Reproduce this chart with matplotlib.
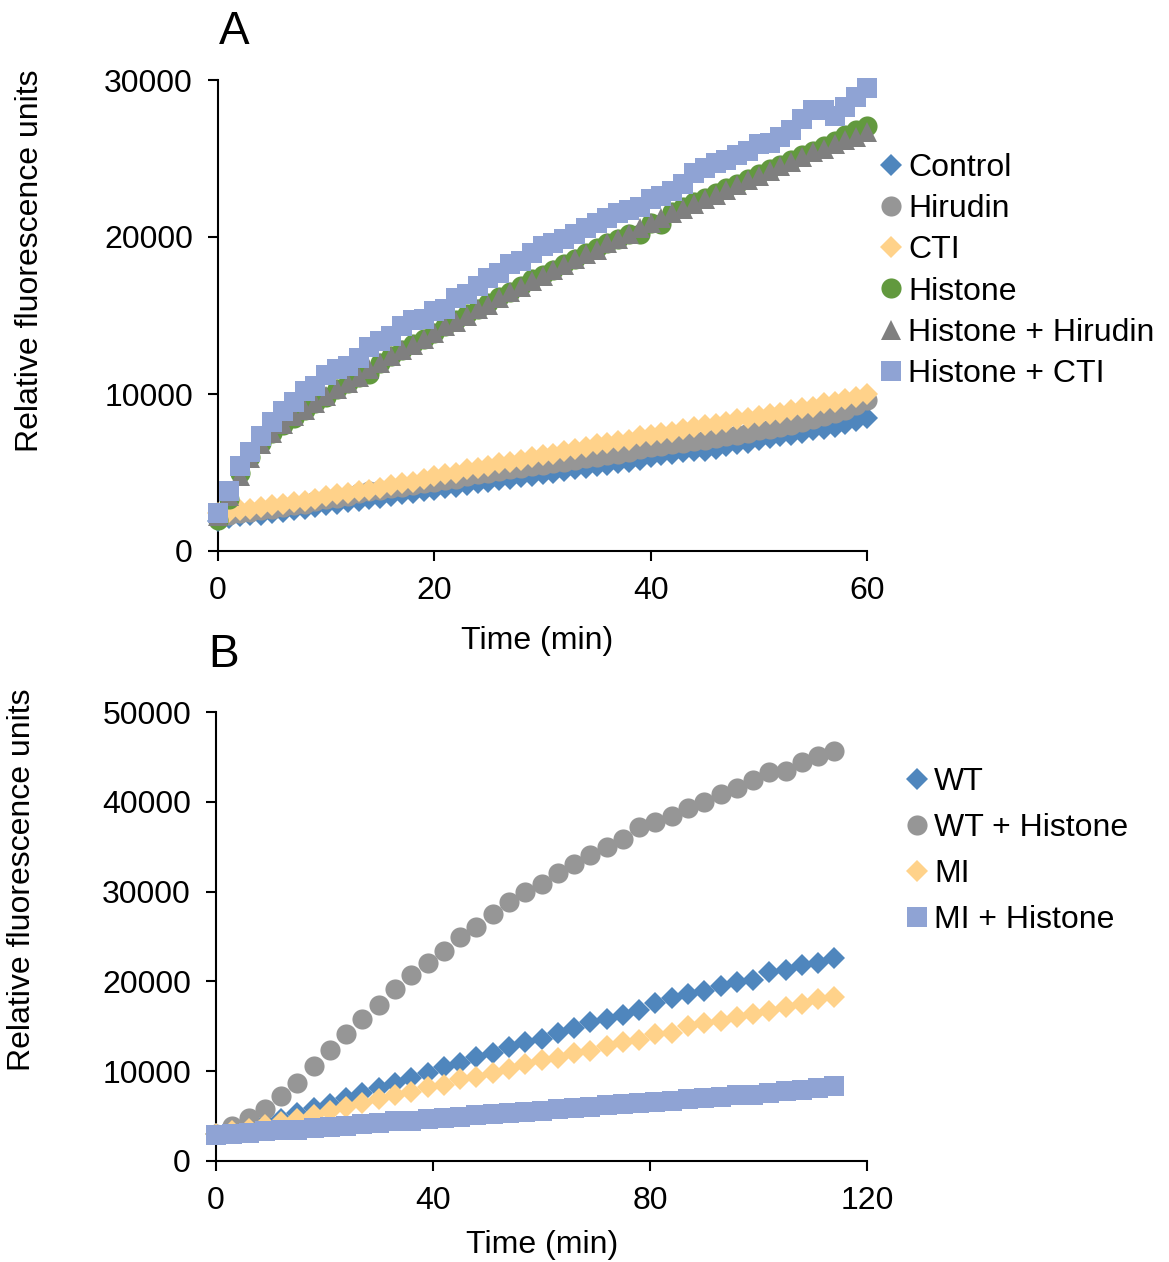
import numpy as np
import matplotlib.pyplot as plt

plt.rcParams['font.family'] = ['Liberation Sans', 'DejaVu Sans']
plt.rcParams['font.size'] = 23

# ---- panel A data (one reading per minute) ----
time_a = list(range(0, 61))
control = [1900, 2100, 2200, 2300, 2300, 2400, 2500, 2600, 2700, 2800, 2900, 3000, 3100, 3200, 3300,
           3400, 3500, 3600, 3700, 3800, 3900, 4000, 4100, 4200, 4300, 4400, 4500, 4600, 4700, 4800,
           4900, 5000, 5100, 5200, 5300, 5400, 5500, 5600, 5700, 5800, 6000, 6100, 6200, 6300, 6400,
           6400, 6500, 6700, 6800, 6900, 7100, 7200, 7300, 7400, 7500, 7700, 7800, 7900, 8100, 8300, 8500]
hirudin = [2100, 2300, 2400, 2500, 2600, 2700, 2800, 2900, 3000, 3200, 3300, 3400, 3500, 3700, 3800,
           3900, 4000, 4100, 4200, 4300, 4400, 4500, 4600, 4800, 4900, 5000, 5100, 5200, 5300, 5400,
           5500, 5600, 5700, 5800, 5900, 6000, 6100, 6200, 6300, 6500, 6600, 6700, 6800, 6900, 7000,
           7100, 7200, 7300, 7400, 7500, 7700, 7800, 7900, 8000, 8200, 8400, 8600, 8800, 9000, 9300, 9600]
cti = [2400, 2500, 2600, 2700, 2800, 2900, 3000, 3100, 3200, 3300, 3500, 3600, 3700, 3800, 3900,
       4000, 4200, 4300, 4400, 4600, 4800, 4900, 5000, 5200, 5300, 5400, 5600, 5700, 5800, 6000,
       6100, 6200, 6400, 6500, 6600, 6800, 6900, 7000, 7100, 7300, 7400, 7500, 7600, 7800, 7900,
       8000, 8100, 8200, 8400, 8500, 8600, 8700, 8800, 9000, 9100, 9200, 9400, 9500, 9700, 9800, 10000]
histone = [2000, 3300, 5000, 6000, 6900, 7500, 8000, 8500, 9000, 9400, 9800, 10300, 10700, 11100, 11300,
           12000, 12400, 12800, 13200, 13500, 13900, 14300, 14700, 15100, 15400, 15800, 16200, 16500, 16900, 17300,
           17600, 17900, 18300, 18600, 19000, 19300, 19600, 19900, 20200, 20200, 20900, 20800, 21600, 21900, 22200,
           22500, 22800, 23100, 23400, 23700, 24000, 24300, 24600, 24900, 25200, 25500, 25800, 26100, 26500, 26800, 27100]
histone_hirudin = [2200, 3500, 4800, 5900, 6800, 7500, 8100, 8600, 9000, 9400, 9900, 10300, 10700, 11100, 11600,
                   12000, 12400, 12800, 13100, 13500, 13900, 14300, 14600, 15000, 15400, 15700, 16100, 16500, 16800, 17200,
                   17500, 17900, 18200, 18600, 18900, 19200, 19600, 19900, 20200, 20600, 20900, 21200, 21500, 21800, 22100,
                   22400, 22700, 23000, 23300, 23600, 23900, 24200, 24500, 24800, 25100, 25400, 25600, 25900, 26200, 26400, 26700]
histone_cti = [2400, 3800, 5400, 6300, 7300, 8200, 8900, 9500, 10200, 10500, 11200, 11600, 11800, 12300, 13000,
               13400, 13700, 14300, 14700, 14800, 15300, 15400, 16100, 16400, 16900, 17400, 17700, 18300, 18500, 19000,
               19400, 19600, 19900, 20200, 20600, 20900, 21200, 21500, 21700, 21900, 22400, 22600, 22900, 23400, 24100,
               24400, 24700, 24900, 25200, 25500, 25900, 26000, 26400, 26800, 27500, 28100, 28100, 27700, 28300, 28900, 29500]

# ---- panel B data (one reading every 3 min) ----
time_b = list(range(0, 115, 3))
wt = [3000, 3400, 3800, 4200, 4700, 5300, 5900, 6400, 7000, 7600, 8100, 8700, 9200, 9800, 10500,
      10900, 11600, 12000, 12700, 13300, 13600, 14300, 14800, 15500, 15800, 16300, 16800, 17600, 18100, 18600,
      18900, 19500, 19900, 20200, 21000, 21300, 21800, 22100, 22600]
wt_histone = [3000, 3900, 4800, 5800, 7200, 8700, 10600, 12400, 14100, 15800, 17400, 19200, 20700, 22000, 23400,
              25000, 26100, 27500, 28800, 30000, 30900, 32100, 33100, 34100, 35000, 35900, 37200, 37800, 38400, 39300,
              40000, 40900, 41500, 42400, 43300, 43400, 44400, 45100, 45700]
mi = [3000, 3300, 3600, 4000, 4300, 4700, 5100, 5600, 6000, 6500, 6900, 7300, 7700, 8200, 8500,
      9100, 9400, 9800, 10200, 10800, 11200, 11500, 12000, 12200, 12800, 13300, 13500, 14100, 14300, 15000,
      15400, 15600, 16000, 16400, 16700, 17100, 17500, 18000, 18300]
mi_histone = [2900, 3000, 3100, 3300, 3400, 3500, 3700, 3800, 3900, 4100, 4200, 4400, 4500, 4700, 4800,
              4900, 5100, 5200, 5400, 5500, 5600, 5800, 5900, 6000, 6200, 6300, 6500, 6600, 6700, 6900,
              7000, 7100, 7300, 7400, 7600, 7800, 7900, 8100, 8300]

c_blue = '#4F86BD'
c_grey = '#969696'
c_yellow = '#FFD28A'
c_green = '#62993E'
c_dgrey = '#7F7F7F'
c_lav = '#8FA3D4'

fig = plt.figure(figsize=(11.69, 12.62), dpi=100)
W, H = 1169, 1262


def style_axes(ax):
    for s in ['top', 'right']:
        ax.spines[s].set_visible(False)
    for s in ['left', 'bottom']:
        ax.spines[s].set_linewidth(1.5)
    ax.tick_params(direction='out', length=7, width=1.5, pad=11)
    ax.ticklabel_format(style='plain', useOffset=False)


# panel A
axA = fig.add_axes([218 / W, 1 - 551 / H, 649 / W, 471 / H])
seriesA = [
    (control, 'D', c_blue, 11, 'Control'),
    (hirudin, 'o', c_grey, 14.5, 'Hirudin'),
    (cti, 'D', c_yellow, 11, 'CTI'),
    (histone, 'o', c_green, 14.5, 'Histone'),
    (histone_hirudin, '^', c_dgrey, 14.5, 'Histone + Hirudin'),
    (histone_cti, 's', c_lav, 14, 'Histone + CTI'),
]
for vals, m, c, ms, lab in seriesA:
    axA.plot(time_a, vals, linestyle='none', marker=m, color=c, markersize=ms,
             markeredgewidth=0, label=lab, clip_on=False, zorder=3)
axA.set_xlim(0, 60)
axA.set_ylim(0, 30000)
axA.set_xticks([0, 20, 40, 60])
axA.set_yticks([0, 10000, 20000, 30000])
style_axes(axA)
axA.set_xlabel('Time (min)')
axA.set_ylabel('Relative fluorescence units')
axA.xaxis.set_label_coords(0.4915, -0.191)
axA.yaxis.set_label_coords(-0.290, 0.616)
axA.xaxis.label.set_va('center')
axA.yaxis.label.set_va('center')
axA.legend(loc='upper left', bbox_to_anchor=(878 / W, 1 - 153 / H), bbox_transform=fig.transFigure,
           frameon=False, borderpad=0, borderaxespad=0, handlelength=0.8, handletextpad=0.15,
           labelspacing=0.35, fontsize=23)

# panel B
axB = fig.add_axes([216 / W, 1 - 1161 / H, 651 / W, 449 / H])
seriesB = [
    (wt, 'D', c_blue, 11, 'WT'),
    (wt_histone, 'o', c_grey, 14.5, 'WT + Histone'),
    (mi, 'D', c_yellow, 11, 'MI'),
    (mi_histone, 's', c_lav, 14, 'MI + Histone'),
]
for vals, m, c, ms, lab in seriesB:
    axB.plot(time_b, vals, linestyle='none', marker=m, color=c, markersize=ms,
             markeredgewidth=0, label=lab, clip_on=False, zorder=3)
axB.set_xlim(0, 120)
axB.set_ylim(0, 50000)
axB.set_xticks([0, 40, 80, 120])
axB.set_yticks([0, 10000, 20000, 30000, 40000, 50000])
style_axes(axB)
axB.set_xlabel('Time (min)')
axB.set_ylabel('Relative fluorescence units')
axB.xaxis.set_label_coords(0.5008, -0.187)
axB.yaxis.set_label_coords(-0.298, 0.626)
axB.xaxis.label.set_va('center')
axB.yaxis.label.set_va('center')
axB.legend(loc='upper left', bbox_to_anchor=(904 / W, 1 - 767 / H), bbox_transform=fig.transFigure,
           frameon=False, borderpad=0, borderaxespad=0, handlelength=0.8, handletextpad=0.15,
           labelspacing=0.50, fontsize=23)

fig.text(234 / W, 1 - 32 / H, 'A', fontsize=33, ha='center', va='center')
fig.text(224 / W, 1 - 655 / H, 'B', fontsize=33, ha='center', va='center')

fig.savefig('out.png', dpi=100)
